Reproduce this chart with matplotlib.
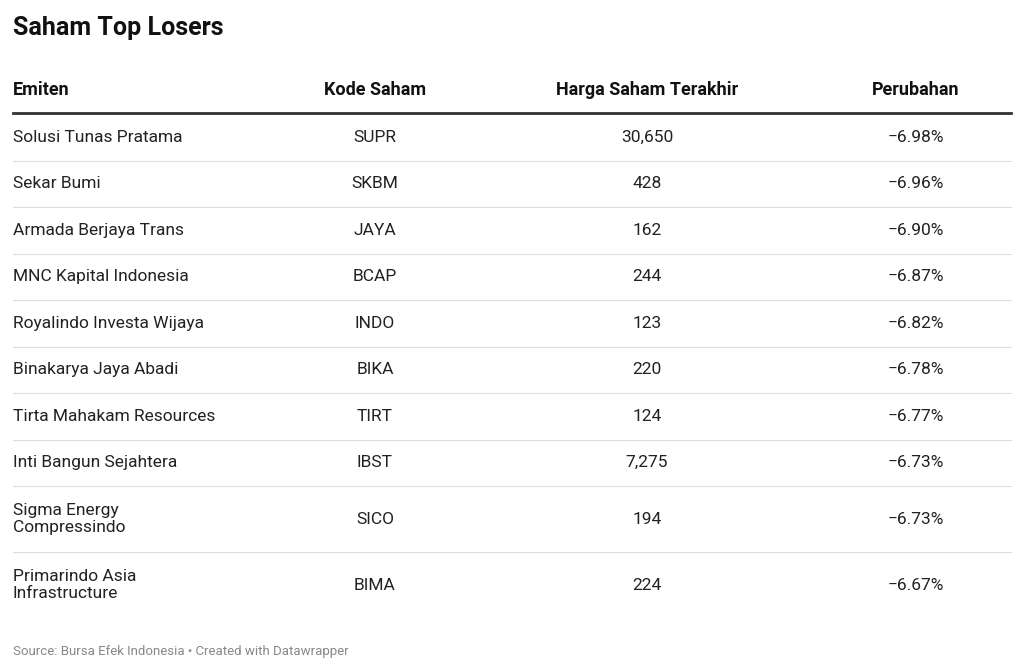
import matplotlib
matplotlib.use("Agg")
import matplotlib.pyplot as plt

plt.rcParams['font.family'] = ['Roboto', 'DejaVu Sans']

emiten = ["Solusi Tunas Pratama", "Sekar Bumi", "Armada Berjaya Trans", "MNC Kapital Indonesia",
          "Royalindo Investa Wijaya", "Binakarya Jaya Abadi", "Tirta Mahakam Resources",
          "Inti Bangun Sejahtera", "Sigma Energy\nCompressindo", "Primarindo Asia\nInfrastructure"]
kode = ["SUPR", "SKBM", "JAYA", "BCAP", "INDO", "BIKA", "TIRT", "IBST", "SICO", "BIMA"]
harga = [30650, 428, 162, 244, 123, 220, 124, 7275, 194, 224]
perubahan = [-6.98, -6.96, -6.90, -6.87, -6.82, -6.78, -6.77, -6.73, -6.73, -6.67]
headers = ["Emiten", "Kode Saham", "Harga Saham Terakhir", "Perubahan"]

W, H = 1024, 672
fig = plt.figure(figsize=(W/100, H/100), dpi=100)
ax = fig.add_axes([0, 0, 1, 1])
ax.set_xlim(0, W); ax.set_ylim(H, 0); ax.axis('off')

ax.text(13, 28, "Saham Top Losers", fontsize=18, fontweight='bold', va='center', ha='left', color='#111')
colx = [13, 375, 647, 916]
has = ['left', 'center', 'center', 'center']
for x, h, a in zip(colx, headers, has):
    ax.text(x, 90, h, fontsize=13, fontweight='bold', va='center', ha=a, color='#111')
ax.plot([13, 1011], [113, 113], color='#333', lw=2)

y = 114
for i in range(len(emiten)):
    nl = emiten[i].count("\n") + 1
    hgt = 46.5 if nl == 1 else 66
    yc = y + hgt/2
    vals = [emiten[i], kode[i], f"{harga[i]:,}", f"\u2212{abs(perubahan[i]):.2f}%"]
    for x, v, a in zip(colx, vals, has):
        ax.text(x, yc, v, fontsize=12.5, va='center', ha=a, color='#222', linespacing=1.15)
    y += hgt
    if i < len(emiten) - 1:
        ax.plot([13, 1011], [y, y], color='#dddddd', lw=0.8)

ax.text(13, 651, "Source: Bursa Efek Indonesia \u2022 Created with Datawrapper", fontsize=9.5,
        va='center', ha='left', color='#888')
fig.savefig("out.png", dpi=100)
